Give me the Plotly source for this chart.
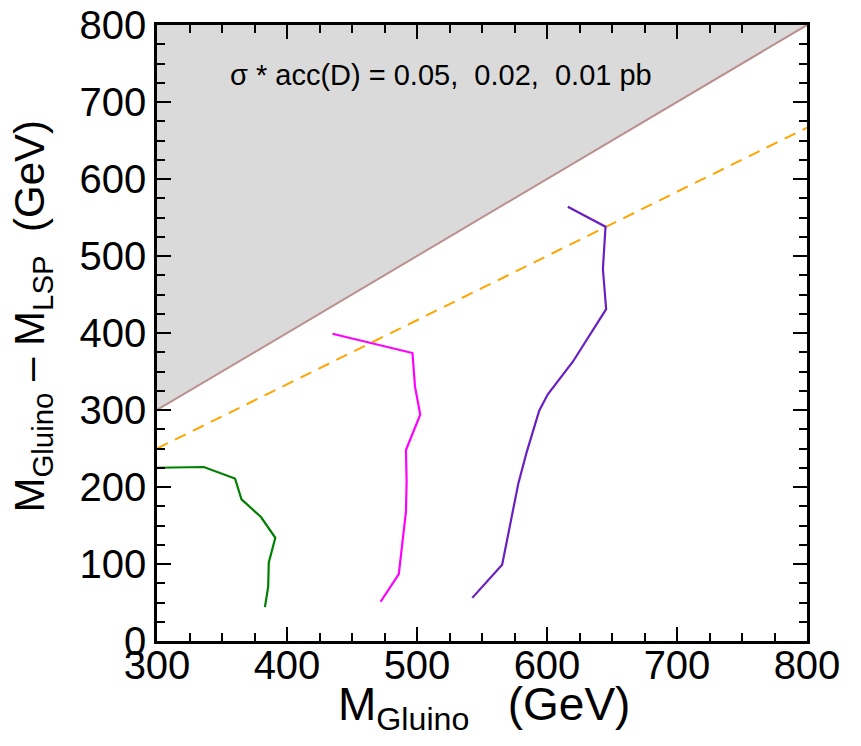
import plotly.graph_objects as go

# ---- data ----
x_range = [300, 800]
y_range = [0, 800]

green_x = [300, 336, 360, 365, 380, 391, 386, 385.5, 383]
green_y = [225, 226, 211, 184, 161, 134, 102, 70, 44]

magenta_x = [435, 496.5, 498.5, 502.5, 491.5, 492, 491.5, 486, 472]
magenta_y = [399, 374, 330, 294, 248, 207, 168, 87, 51]

purple_x = [616, 645, 643, 645.5, 620, 600.5, 594, 584.5, 578, 570.5, 565.5, 542.5]
purple_y = [564, 538, 483, 431, 363, 320, 299, 246, 205, 144, 99, 56]

diag_x = [300, 800]          # M_LSP = 0 boundary
diag_y = [300, 800]
dash_x = [300, 800]          # M_LSP = M_Gluino / 6
dash_y = [250, 666.7]

fig = go.Figure()

# forbidden region (above diagonal)
fig.add_trace(go.Scatter(
    x=[diag_x[0], diag_x[1], diag_x[0]],
    y=[diag_y[0], diag_y[1], y_range[1]],
    fill="toself", fillcolor="#dadada", mode="none",
    hoverinfo="skip", showlegend=False))

fig.add_trace(go.Scatter(x=diag_x, y=diag_y, mode="lines",
                         line=dict(color="#bc8f8f", width=2), showlegend=False))
fig.add_trace(go.Scatter(x=dash_x, y=dash_y, mode="lines",
                         line=dict(color="#ffa500", width=2, dash="12px,8px"),
                         showlegend=False))
fig.add_trace(go.Scatter(x=green_x, y=green_y, mode="lines",
                         line=dict(color="#008000", width=2.2), showlegend=False))
fig.add_trace(go.Scatter(x=magenta_x, y=magenta_y, mode="lines",
                         line=dict(color="#ff00ff", width=2.2), showlegend=False))
fig.add_trace(go.Scatter(x=purple_x, y=purple_y, mode="lines",
                         line=dict(color="#6a1fc2", width=2.2), showlegend=False))

font_family = "Liberation Sans, Arial, sans-serif"

axis_common = dict(
    showgrid=False, zeroline=False, automargin=False,
    showline=True, linecolor="black", linewidth=2.5, mirror="allticks",
    ticks="inside", ticklen=14, tickwidth=2, tickcolor="black",
    ticklabeloverflow="allow",
    tickfont=dict(family=font_family, size=40, color="black"),
    minor=dict(ticks="inside", ticklen=8, tickwidth=2, tickcolor="black", dtick=25),
)

fig.update_xaxes(range=x_range, dtick=100, tick0=300, ticklabelstandoff=-13,
                 **axis_common)
fig.update_yaxes(range=y_range, dtick=100, tick0=0, **axis_common)

fig.add_annotation(
    text="σ * acc(D) = 0.05,\u00a0 0.02,\u00a0 0.01 pb",
    xref="paper", yref="paper", x=0.437, y=0.919,
    xanchor="center", yanchor="middle",
    showarrow=False, font=dict(family=font_family, size=29, color="black"))

fig.add_annotation(
    text="M<sub>Gluino</sub>\u00a0\u00a0\u00a0(GeV)",
    xref="paper", yref="paper", x=0.503, y=-0.057, yanchor="top",
    showarrow=False, font=dict(family=font_family, size=46, color="black"))

fig.add_annotation(
    text="M<sub>Gluino</sub> – M<sub>LSP</sub>\u00a0\u00a0(GeV)",
    xref="paper", yref="paper", x=-0.192, y=0.527, textangle=-90,
    xanchor="center", yanchor="middle",
    showarrow=False, font=dict(family=font_family, size=42, color="black"))

fig.update_layout(
    width=853, height=738,
    margin=dict(l=149, r=54, t=17, b=105),
    plot_bgcolor="white", paper_bgcolor="white",
    showlegend=False,
)

fig.write_html("out.html")
